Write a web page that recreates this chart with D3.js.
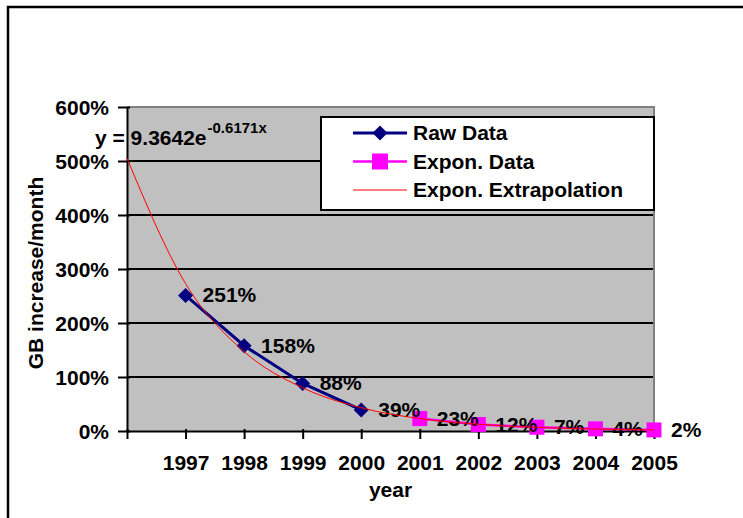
<!DOCTYPE html>
<html>
<head>
<meta charset="utf-8">
<script src="https://cdn.jsdelivr.net/npm/d3@7/dist/d3.min.js"></script>
<style>
  html, body { margin: 0; padding: 0; background: #fff; }
  svg { display: block; }
  text { font-family: "Liberation Sans", Arial, sans-serif; font-weight: bold; fill: #000; }
</style>
</head>
<body>
<svg id="chart" width="743" height="518"></svg>
<script>
// Monthly growth of stored GB, measured and extrapolated
const rawYears = [1997, 1998, 1999, 2000];
const rawValues = [251, 158, 88, 39];            // percent
const exponYears = [2001, 2002, 2003, 2004, 2005];
const exponValues = [23, 12, 7, 4, 2];           // percent
const trendYears = [1996, 1997, 1998, 1999, 2000, 2001, 2002, 2003, 2004, 2005];
const trendValues = [505, 273, 147, 80, 43, 23, 12.5, 6.7, 3.6, 1.95];
const xTickYears = [1996, 1997, 1998, 1999, 2000, 2001, 2002, 2003, 2004, 2005];
const yTicks = [0, 100, 200, 300, 400, 500, 600];
const legendLabels = ["Raw Data", "Expon. Data", "Expon. Extrapolation"];
const equationMain = "y = 9.3642e";
const equationExp = "-0.6171x";
const yTitle = "GB increase/month";
const xTitle = "year";

const svg = d3.select("#chart");
const plot = { left: 127, right: 654, top: 107, bottom: 431 };
const FS = 21;

const x = d3.scaleLinear().domain([1996, 2005]).range([plot.left, plot.right]);
const y = d3.scaleLinear().domain([0, 600]).range([plot.bottom, plot.top]);

// outer chart frame (runs off the right and bottom edges)
svg.append("path")
  .attr("d", "M8,530 L8,7 L760,7")
  .attr("fill", "none").attr("stroke", "#000").attr("stroke-width", 2.5);

// plot background
svg.append("rect")
  .attr("x", plot.left).attr("y", plot.top)
  .attr("width", plot.right - plot.left).attr("height", plot.bottom - plot.top)
  .attr("fill", "#c0c0c0");

// horizontal gridlines
svg.append("g").selectAll("line")
  .data(yTicks.filter(d => d > 0 && d < 600))
  .join("line")
  .attr("x1", plot.left).attr("x2", plot.right)
  .attr("y1", d => y(d)).attr("y2", d => y(d))
  .attr("stroke", "#000").attr("stroke-width", 2);

// plot border, top and right
svg.append("path")
  .attr("d", `M${plot.left},${plot.top} L${plot.right},${plot.top} L${plot.right},${plot.bottom}`)
  .attr("fill", "none").attr("stroke", "#808080").attr("stroke-width", 2);

// y axis
const yAxis = svg.append("g")
  .attr("transform", `translate(${plot.left},0)`)
  .call(d3.axisLeft(y).tickValues(yTicks).tickFormat(d => d + "%").tickSize(9).tickSizeOuter(0).tickPadding(9));
yAxis.select(".domain").attr("stroke", "#000").attr("stroke-width", 2);
yAxis.selectAll(".tick line").attr("stroke", "#000").attr("stroke-width", 2).attr("x2", -9).attr("x1", 3);
yAxis.selectAll(".tick text")
  .attr("font-size", FS).attr("dy", "0.35em")
  .attr("fill", "#000");
yAxis.attr("font-family", null).attr("font-size", null);

// x axis
const xAxis = svg.append("g")
  .attr("transform", `translate(0,${plot.bottom})`)
  .call(d3.axisBottom(x).tickValues(xTickYears).tickFormat(d => d === 1996 ? "" : String(d)).tickSize(8).tickSizeOuter(0));
xAxis.select(".domain").attr("stroke", "#000").attr("stroke-width", 2);
xAxis.selectAll(".tick line").attr("stroke", "#000").attr("stroke-width", 2).attr("y1", -2);
xAxis.selectAll(".tick text")
  .attr("font-size", FS).attr("y", 39).attr("dy", 0)
  .attr("fill", "#000");
xAxis.attr("font-family", null).attr("font-size", null);

// axis titles
svg.append("text")
  .attr("transform", `translate(43,${(plot.top + plot.bottom) / 2 + 4}) rotate(-90)`)
  .attr("text-anchor", "middle").attr("font-size", FS)
  .text(yTitle);
svg.append("text")
  .attr("x", (plot.left + plot.right) / 2).attr("y", 497)
  .attr("text-anchor", "middle").attr("font-size", FS)
  .text(xTitle);

// series
const rawData = rawYears.map((yr, i) => ({ yr, v: rawValues[i] }));
const exponData = exponYears.map((yr, i) => ({ yr, v: exponValues[i] }));
const trendData = trendYears.map((yr, i) => ({ yr, v: trendValues[i] }));

const line = d3.line().x(d => x(d.yr)).y(d => y(d.v));

svg.append("path").datum(exponData)
  .attr("d", line).attr("fill", "none")
  .attr("stroke", "#ff00ff").attr("stroke-width", 2.5);
svg.append("g").selectAll("rect").data(exponData).join("rect")
  .attr("x", d => x(d.yr) - 7.5).attr("y", d => y(d.v) - 7.5)
  .attr("width", 15).attr("height", 15)
  .attr("fill", "#ff00ff");

svg.append("path").datum(rawData)
  .attr("d", line).attr("fill", "none")
  .attr("stroke", "#000080").attr("stroke-width", 3);
const diamond = d3.symbol().type(d3.symbolDiamond2).size(145);
svg.append("g").selectAll("path").data(rawData).join("path")
  .attr("transform", d => `translate(${x(d.yr)},${y(d.v)})`)
  .attr("d", diamond)
  .attr("fill", "#000080");

// value labels
svg.append("g").selectAll("text").data(rawData.concat(exponData)).join("text")
  .attr("x", d => x(d.yr) + 17).attr("y", d => y(d.v) + 7)
  .attr("font-size", FS)
  .text(d => d.v + "%");

// exponential trendline
svg.append("path").datum(trendData)
  .attr("d", d3.line().x(d => x(d.yr)).y(d => y(d.v)).curve(d3.curveMonotoneX))
  .attr("fill", "none").attr("stroke", "#ff0000").attr("stroke-width", 1);

// trendline equation
const eq = svg.append("text").attr("x", 95).attr("y", 145).attr("font-size", FS).text(equationMain);
const eqW = eq.node().getComputedTextLength();
svg.append("text").attr("x", 95 + eqW + 1).attr("y", 133).attr("font-size", 15).text(equationExp);

// legend
const lg = svg.append("g");
lg.append("rect")
  .attr("x", 321).attr("y", 117).attr("width", 654 - 321).attr("height", 210 - 117)
  .attr("fill", "#fff").attr("stroke", "#000").attr("stroke-width", 2);
const rowY = [133, 161.5, 190];
const sx1 = 353, sx2 = 407, sxm = 380;
lg.append("line").attr("x1", sx1).attr("x2", sx2).attr("y1", rowY[0]).attr("y2", rowY[0])
  .attr("stroke", "#000080").attr("stroke-width", 3);
lg.append("path").attr("transform", `translate(${sxm},${rowY[0]})`).attr("d", diamond).attr("fill", "#000080");
lg.append("line").attr("x1", sx1).attr("x2", sx2).attr("y1", rowY[1]).attr("y2", rowY[1])
  .attr("stroke", "#ff00ff").attr("stroke-width", 2.5);
lg.append("rect").attr("x", sxm - 8).attr("y", rowY[1] - 8).attr("width", 16).attr("height", 16).attr("fill", "#ff00ff");
lg.append("line").attr("x1", sx1).attr("x2", sx2).attr("y1", rowY[2]).attr("y2", rowY[2])
  .attr("stroke", "#ff0000").attr("stroke-width", 1);
lg.selectAll("text.lab").data(legendLabels).join("text")
  .attr("class", "lab")
  .attr("x", 413).attr("y", (d, i) => rowY[i] + 7)
  .attr("font-size", FS)
  .text(d => d);
</script>
</body>
</html>
